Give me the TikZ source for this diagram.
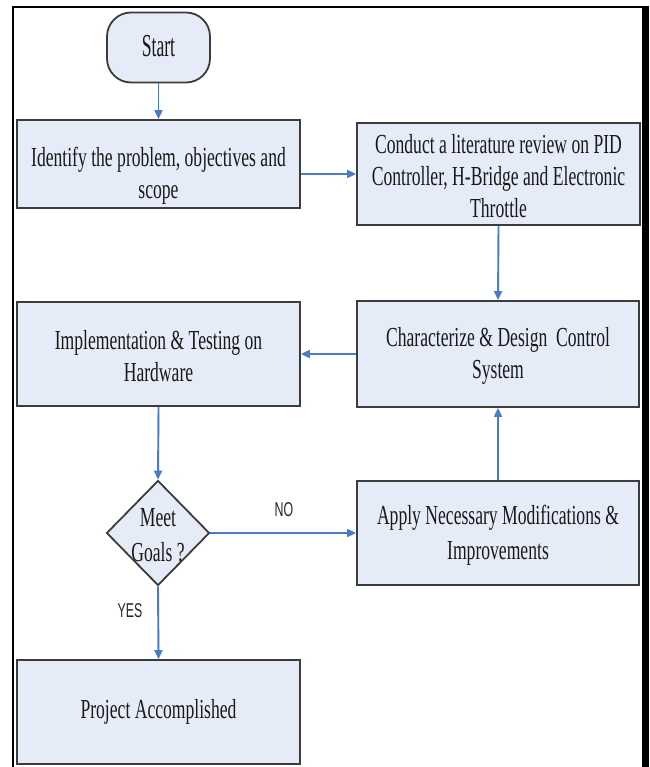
\documentclass[tikz,border=0pt]{standalone}
\usepackage{fontspec}
\setmainfont{Liberation Serif}[FakeStretch=0.64]
\newfontfamily\startfont{Liberation Serif}[FakeStretch=0.55]
\newfontfamily\labfont{Liberation Sans}[FakeStretch=0.62]
\usetikzlibrary{arrows.meta,shapes.geometric}
\definecolor{boxfill}{HTML}{E6ECF7}
\definecolor{boxline}{HTML}{3C3C3C}
\definecolor{arrblue}{HTML}{4A7BC8}
\tikzset{
  box/.style={draw=boxline,fill=boxfill,line width=1.8pt,inner sep=0pt},
  rbox/.style={box,minimum width=283pt,minimum height=#1},
  txt/.style={align=center,font=\fontsize{27.5}{32}\selectfont,text=black!90,inner sep=0pt},
  arr/.style={draw=arrblue,line width=1.9pt,-{Triangle[length=9pt,width=8pt]}},
  lab/.style={font=\labfont\fontsize{20}{20}\selectfont,text=black!85,inner sep=0pt}
}
\begin{document}
\begin{tikzpicture}[x=1pt,y=-1pt]
\useasboundingbox (0,0) rectangle (649,767);
\fill[white] (0,0) rectangle (649,767);
% frame
\draw[line width=2pt] (13,767) -- (13,7.5) -- (643,7.5);
\fill[black] (642,6.5) rectangle (649,767);
% boxes
\node[box,minimum width=103pt,minimum height=70pt,rounded corners=24pt] (start) at (158.5,47.5) {};
\node[rbox=88pt] (ident) at (158.5,164) {};
\node[rbox=102pt] (conduct) at (498.5,174) {};
\node[box,minimum width=282pt,minimum height=106pt] (charac) at (498,354) {};
\node[rbox=104pt] (impl) at (158.5,354) {};
\node[box,diamond,minimum width=103pt,minimum height=105pt] (goal) at (158,533) {};
\node[box,minimum width=282pt,minimum height=104pt] (apply) at (498,533) {};
\node[rbox=104pt] (project) at (158.5,712) {};
% texts
\node[txt] (tstart) at (158.5,46) {\startfont\fontsize{32}{32}\selectfont Start};
\node[txt] (tident) at (158.5,176) {Identify the problem, objectives and\\scope};
\node[txt] (tconduct) at (498.5,176) {Conduct a literature review on PID\\Controller, H-Bridge and Electronic\\Throttle};
\node[txt] (tcharac) at (498,356) {Characterize \& Design\ \ Control\\System};
\node[txt] (timpl) at (158.5,356) {Implementation \& Testing on\\Hardware};
\node[txt,font=\fontsize{27.5}{35}\selectfont] (tgoal) at (158,535) {Meet\\Goals ?};
\node[txt,font=\fontsize{27.5}{35}\selectfont] (tapply) at (498,535) {Apply Necessary Modifications \&\\Improvements};
\node[txt] (tproject) at (158.5,712) {Project Accomplished};
% connectors
\draw[arr] (start.south) -- (ident.north);
\draw[arr] (ident.east |- conduct.west) -- (conduct.west);
\draw[arr] (conduct.south) -- (charac.north);
\draw[arr] (charac.west) -- (impl.east);
\draw[arr] (impl.south) -- (goal.north);
\draw[arr] (goal.east) -- (apply.west);
\draw[arr] (apply.north) -- (charac.south);
\draw[arr] (goal.south) -- (project.north);
\node[lab] (no) at (284,510) {NO};
\node[lab] (yes) at (130,611) {YES};
\end{tikzpicture}
\end{document}
